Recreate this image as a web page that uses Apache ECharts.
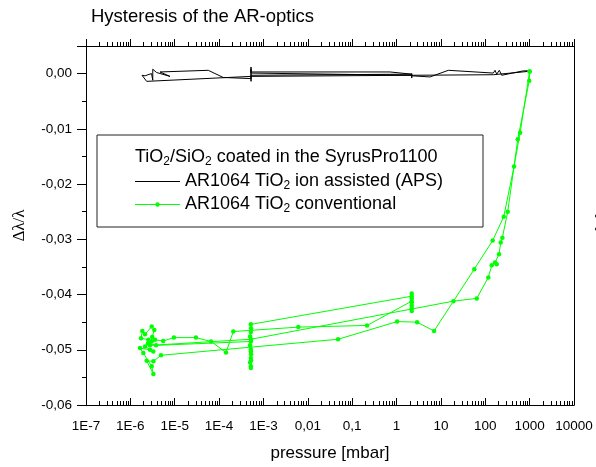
<!DOCTYPE html>
<html>
<head>
<meta charset="utf-8">
<script src="https://cdn.jsdelivr.net/npm/echarts@6.0.0/dist/echarts.min.js"></script>
<style>
  html, body { margin: 0; padding: 0; background: #fff; }
  #chart { width: 596px; height: 467px; }
</style>
</head>
<body>
<div id="chart"></div>
<script>
// Relative wavelength shift vs. chamber pressure, recorded in sequence
// (pump-down, holds, venting), pressure in mbar.
const apsPressure = [935, 721, 235, 207, 181, 166, 152, 14.7, 5.7, 2.2, 2.2, 2.2, 2.2,
  5.25e-4, 5.25e-4, 5.25e-4, 5.2e-4, 5.25e-4, 0.71, 2.2, 5.25e-4, 5.25e-4,
  1.24e-4, 5.7e-5, 4.66e-6, 7.8e-6, 3.9e-6,
  3.2e-6, 3.2e-6, 3.0e-6, 2.5e-6, 2.15e-6, 1.83e-6, 1.65e-6, 2.0e-6, 2.33e-6,
  5.25e-4, 2.2, 152, 935];
const apsShift = [0.0005, 0.0005, -0.0003, 0.0006, -0.0001, 0.0006, 0.0001, 0.0006, -0.0006, -0.0004, 0.0000, -0.0008, -0.0003,
  0.0001, 0.0012, -0.0014, 0.0008, 0.0003, 0.0003, -0.0001, -0.0003, -0.0009,
  -0.0007, 0.0006, 0.0003, -0.0005, 0.0002,
  0.0008, -0.0012, 0.0000, -0.0002, -0.0004, -0.0003, -0.0003, -0.0002, -0.0014,
  -0.0005, -0.0003, -0.0002, 0.0004];

const convPressure = [1000, 610, 445, 261, 147, 56.6, 7.0, 2.9, 1.03, 0.048,
  4.9e-6, 3.3e-6, 2.33e-6, 3.3e-6, 3.03e-6, 1.96e-6, 1.65e-6, 2.77e-6, 3.29e-6, 2.14e-6, 2.5e-6, 3.8e-6,
  5.2e-4, 5.0e-4, 5.2e-4, 5.25e-4, 5.2e-4, 5.0e-4, 5.2e-4, 5.2e-4, 5.25e-4, 5.2e-4, 5.0e-4, 5.2e-4, 5.25e-4, 5.2e-4,
  2.2, 2.2, 2.2, 2.2, 2.2, 2.2, 2.2, 2.2,
  0.216, 0.0061, 2.09e-4, 1.43e-4, 6.6e-5, 3.0e-5, 9.6e-6, 5.5e-6,
  3.59e-6, 3.03e-6, 2.54e-6, 1.74e-6, 1.86e-6, 2.14e-6, 3.03e-6, 3.47e-6, 3.1e-6, 2.77e-6,
  5.2e-4, 19.1, 64.3, 117, 140, 166, 181, 204, 223, 243, 321, 540, 980, 1000];
const convShift = [0.0004, -0.0107, -0.0168, -0.0259, -0.0302, -0.0354, -0.0466, -0.0450, -0.0449, -0.0481,
  -0.0510, -0.0521, -0.0520, -0.0544, -0.0530, -0.0506, -0.0497, -0.0500, -0.0503, -0.0494, -0.0488, -0.0492,
  -0.0485, -0.0492, -0.0499, -0.0508, -0.0515, -0.0523, -0.0530, -0.0533, -0.0519, -0.0503, -0.0476, -0.0468, -0.0461, -0.0454,
  -0.0403, -0.0398, -0.0407, -0.0414, -0.0420, -0.0425, -0.0430, -0.0412,
  -0.0456, -0.0459, -0.0467, -0.0505, -0.0485, -0.0478, -0.0478, -0.0484,
  -0.0482, -0.0485, -0.0482, -0.0479, -0.0466, -0.0472, -0.0458, -0.0464, -0.0477, -0.0492,
  -0.0481, -0.0412, -0.0407, -0.0369, -0.0347, -0.0342, -0.0345, -0.0327, -0.0306, -0.0297, -0.0250, -0.0119, -0.0013, 0.0004];

// Decade tick labels from 1E-7 to 10000 mbar
const xTickLabels = ['1E-7', '1E-6', '1E-5', '1E-4', '1E-3', '0,01', '0,1', '1', '10', '100', '1000', '10000'];
const xDecadeMin = -7;
const xDecadeMax = 4;
const yTickLabels = ['-0,06', '-0,05', '-0,04', '-0,03', '-0,02', '-0,01', '0,00'];

const FONT = 'Liberation Sans, Arial, sans-serif';
const SERIF = 'Liberation Serif, Times New Roman, serif';
const GREEN = '#00ff00';
const BLACK = '#000';

// The pressure axis is drawn over log10(p)
const toPoints = (ps, vs) => ps.map((p, i) => [Math.log10(p), vs[i]]);

// Decade and intermediate (2..9 × 10^n) positions of the log scale
const majorX = [];
for (let e = xDecadeMin; e <= xDecadeMax; e++) majorX.push(e);
const minorX = [];
for (let e = xDecadeMin; e < xDecadeMax; e++) {
  for (let k = 2; k <= 9; k++) minorX.push(e + Math.log10(k));
}

// One x axis per tick family, all sharing the same range
function xAxisOf(position, lineShow, ticks, tickLen, inside, extra) {
  return Object.assign({
    type: 'value', min: xDecadeMin, max: xDecadeMax, interval: 1, position: position,
    splitLine: { show: false },
    axisLine: { show: lineShow, onZero: false, lineStyle: { color: BLACK, width: 1 } },
    axisTick: ticks
      ? { show: true, inside: inside, length: tickLen, customValues: ticks, lineStyle: { color: BLACK, width: 1 } }
      : { show: false },
    axisLabel: { show: false }
  }, extra || {});
}

const sub = { fontSize: 12, padding: [9, 0, 0, 0], fontFamily: FONT, color: '#000' };
const txt = { fontSize: 18, fontFamily: FONT, color: '#000' };

const chart = echarts.init(document.getElementById('chart'), null, { renderer: 'canvas' });
chart.setOption({
  animation: false,
  backgroundColor: '#fff',
  title: {
    text: 'Hysteresis of the AR-optics',
    left: 86, top: 2,
    textStyle: { fontFamily: FONT, fontSize: 18.5, fontWeight: 'normal', color: '#000' }
  },
  grid: { left: 86, right: 22, top: 46, bottom: 60 },
  xAxis: [
    xAxisOf('bottom', true, null, 0, true, {
      axisLabel: {
        show: true, margin: 14, fontFamily: FONT, fontSize: 13.5, color: '#000',
        customValues: majorX,
        formatter: v => xTickLabels[Math.round(v - xDecadeMin)]
      },
      name: 'pressure [mbar]', nameLocation: 'middle', nameGap: 40,
      nameTextStyle: { fontFamily: FONT, fontSize: 17, color: '#000' }
    }),
    xAxisOf('bottom', false, majorX, 7, true),
    xAxisOf('bottom', false, minorX, 4, true),
    xAxisOf('top', true, majorX, 7, false),
    xAxisOf('top', false, minorX, 4, false)
  ],
  yAxis: [
    {
      type: 'value', min: -0.06, max: 0.005, interval: 0.01, position: 'left',
      splitLine: { show: false },
      axisLine: { show: true, onZero: false, lineStyle: { color: BLACK, width: 1 } },
      axisTick: { show: true, inside: false, length: 9, lineStyle: { color: BLACK } },
      minorTick: { show: true, splitNumber: 2, length: 4, lineStyle: { color: BLACK } },
      axisLabel: {
        margin: 14, fontFamily: FONT, fontSize: 13.5, color: '#000',
        formatter: v => {
          const i = Math.round((v + 0.06) / 0.01);
          return (v > 0.001) ? '' : yTickLabels[i];
        }
      },
      name: 'Δλ/λ', nameLocation: 'middle', nameGap: 58, nameRotate: 90,
      nameTextStyle: { fontFamily: SERIF, fontSize: 17, color: '#000' }
    },
    {
      type: 'value', min: -0.06, max: 0.005, position: 'right',
      splitLine: { show: false },
      axisLine: { show: true, onZero: false, lineStyle: { color: BLACK, width: 1 } },
      axisTick: { show: false }, axisLabel: { show: false }
    }
  ],
  graphic: [
    // Legend frame, header and the two sample keys
    {
      type: 'rect', x: 97, y: 135, z: 0,
      shape: { width: 386, height: 92 },
      style: { fill: '#fff', stroke: '#222', lineWidth: 1 }
    },
    {
      type: 'text', x: 135, y: 157, z: 10,
      style: {
        text: '{t|TiO}{s|2}{t|/SiO}{s|2}{t| coated in the SyrusPro1100}',
        rich: { t: txt, s: sub }, verticalAlign: 'middle'
      }
    },
    {
      type: 'line', z: 10,
      shape: { x1: 135, y1: 181.5, x2: 180, y2: 181.5 },
      style: { stroke: BLACK, lineWidth: 1 }
    },
    {
      type: 'text', x: 185, y: 181.5, z: 10,
      style: {
        text: '{t|AR1064 TiO}{s|2}{t| ion assisted (APS)}',
        rich: { t: txt, s: sub }, verticalAlign: 'middle'
      }
    },
    {
      type: 'line', z: 10,
      shape: { x1: 135, y1: 204.5, x2: 180, y2: 204.5 },
      style: { stroke: GREEN, lineWidth: 1 }
    },
    {
      type: 'circle', z: 10,
      shape: { cx: 157.5, cy: 204.5, r: 2.2 },
      style: { fill: GREEN }
    },
    {
      type: 'text', x: 185, y: 204.5, z: 10,
      style: {
        text: '{t|AR1064 TiO}{s|2}{t| conventional}',
        rich: { t: txt, s: sub }, verticalAlign: 'middle'
      }
    },
    // Axis title of the neighbouring panel, cut by the right page edge
    {
      type: 'text', x: 603, y: 226, rotation: Math.PI / 2, z: 10,
      style: {
        text: 'Δλ/λ', align: 'center', verticalAlign: 'middle',
        fontFamily: SERIF, fontSize: 17, fill: '#000'
      }
    }
  ],
  series: [
    {
      name: 'AR1064 TiO2 ion assisted (APS)', type: 'line', xAxisIndex: 0, yAxisIndex: 0,
      data: toPoints(apsPressure, apsShift),
      symbol: 'none', lineStyle: { color: BLACK, width: 1 }, itemStyle: { color: BLACK }
    },
    {
      name: 'AR1064 TiO2 conventional', type: 'line', xAxisIndex: 0, yAxisIndex: 0,
      data: toPoints(convPressure, convShift),
      symbol: 'circle', symbolSize: 4.5, showSymbol: true,
      lineStyle: { color: GREEN, width: 1 }, itemStyle: { color: GREEN }
    }
  ]
});
</script>
</body>
</html>
